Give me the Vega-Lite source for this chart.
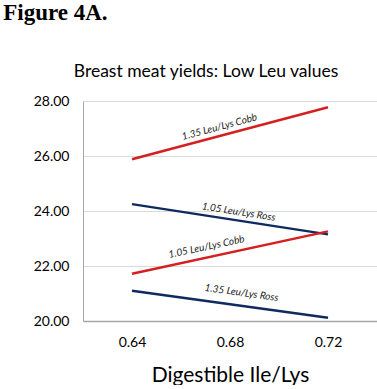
{
  "$schema": "https://vega.github.io/schema/vega-lite/v6.json",
  "padding": {"left": 3, "top": 1, "right": 0, "bottom": 0},
  "background": "white",
  "title": {"text": "Figure 4A.", "anchor": "start", "frame": "bounds", "font": "Liberation Serif", "fontSize": 23, "fontWeight": "bold", "color": "black", "dx": -30, "offset": 38},
  "datasets": {
    "lines": [
      {"series": "1.35 Leu/Lys Cobb", "ratio": 0.64, "yield": 25.88},
      {"series": "1.35 Leu/Lys Cobb", "ratio": 0.72, "yield": 27.77},
      {"series": "1.05 Leu/Lys Ross", "ratio": 0.64, "yield": 24.25},
      {"series": "1.05 Leu/Lys Ross", "ratio": 0.72, "yield": 23.15},
      {"series": "1.05 Leu/Lys Cobb", "ratio": 0.64, "yield": 21.72},
      {"series": "1.05 Leu/Lys Cobb", "ratio": 0.72, "yield": 23.26},
      {"series": "1.35 Leu/Lys Ross", "ratio": 0.64, "yield": 21.10},
      {"series": "1.35 Leu/Lys Ross", "ratio": 0.72, "yield": 20.12}
    ],
    "labels": [
      {"series": "1.35 Leu/Lys Cobb", "ratio": 0.6757, "yield": 27.05},
      {"series": "1.05 Leu/Lys Ross", "ratio": 0.6835, "yield": 23.96},
      {"series": "1.05 Leu/Lys Cobb", "ratio": 0.6704, "yield": 22.69},
      {"series": "1.35 Leu/Lys Ross", "ratio": 0.6847, "yield": 21.02}
    ]
  },
  "vconcat": [
    {
      "width": 294,
      "height": 220,
      "title": {"text": "Breast meat yields: Low Leu values", "anchor": "middle", "font": "Lato", "fontSize": 17.5, "fontWeight": "normal", "color": "black", "offset": 14, "dx": -24},
      "encoding": {
        "x": {"field": "ratio", "type": "quantitative", "scale": {"domain": [0.62, 0.74], "nice": false, "zero": false},
          "axis": {"values": [0.64, 0.68, 0.72], "format": ".2f", "title": "Digestible Ile/Lys", "grid": false, "ticks": false,
            "domainColor": "#A6A6A6", "domainWidth": 1.5, "labelFont": "Lato", "labelFontSize": 14, "labelColor": "black", "labelPadding": 14,
            "titleFont": "Lato", "titleFontSize": 21, "titleFontWeight": "normal", "titleColor": "black", "titlePadding": 15}},
        "y": {"field": "yield", "type": "quantitative", "scale": {"domain": [20, 28], "nice": false, "zero": false},
          "axis": {"values": [20, 22, 24, 26, 28], "format": ".2f", "title": null, "ticks": false, "gridColor": "#D9D9D9", "gridWidth": 1,
            "domainColor": "#A6A6A6", "domainWidth": 1, "labelFont": "Lato", "labelFontSize": 14, "labelColor": "black", "labelPadding": 14}}
      },
      "layer": [
        {
          "data": {"name": "lines"},
          "mark": {"type": "line", "strokeWidth": 2.5},
          "encoding": {
            "color": {"field": "series", "type": "nominal", "legend": null,
              "scale": {"domain": ["1.35 Leu/Lys Cobb", "1.05 Leu/Lys Cobb", "1.05 Leu/Lys Ross", "1.35 Leu/Lys Ross"], "range": ["#D42020", "#D42020", "#0F2A5E", "#0F2A5E"]}}
          }
        },
        {
          "data": {"name": "labels"},
          "transform": [{"filter": "datum.series === '1.35 Leu/Lys Cobb'"}],
          "mark": {"type": "text", "angle": -15, "font": "Lato", "fontSize": 10, "fontStyle": "italic", "color": "#222222"},
          "encoding": {"text": {"field": "series"}}
        },
        {
          "data": {"name": "labels"},
          "transform": [{"filter": "datum.series === '1.05 Leu/Lys Ross'"}],
          "mark": {"type": "text", "angle": 9, "font": "Lato", "fontSize": 10, "fontStyle": "italic", "color": "#222222"},
          "encoding": {"text": {"field": "series"}}
        },
        {
          "data": {"name": "labels"},
          "transform": [{"filter": "datum.series === '1.05 Leu/Lys Cobb'"}],
          "mark": {"type": "text", "angle": -12, "font": "Lato", "fontSize": 10, "fontStyle": "italic", "color": "#222222"},
          "encoding": {"text": {"field": "series"}}
        },
        {
          "data": {"name": "labels"},
          "transform": [{"filter": "datum.series === '1.35 Leu/Lys Ross'"}],
          "mark": {"type": "text", "angle": 8, "font": "Lato", "fontSize": 10, "fontStyle": "italic", "color": "#222222"},
          "encoding": {"text": {"field": "series"}}
        }
      ]
    }
  ],
  "config": {"view": {"stroke": null}}
}
